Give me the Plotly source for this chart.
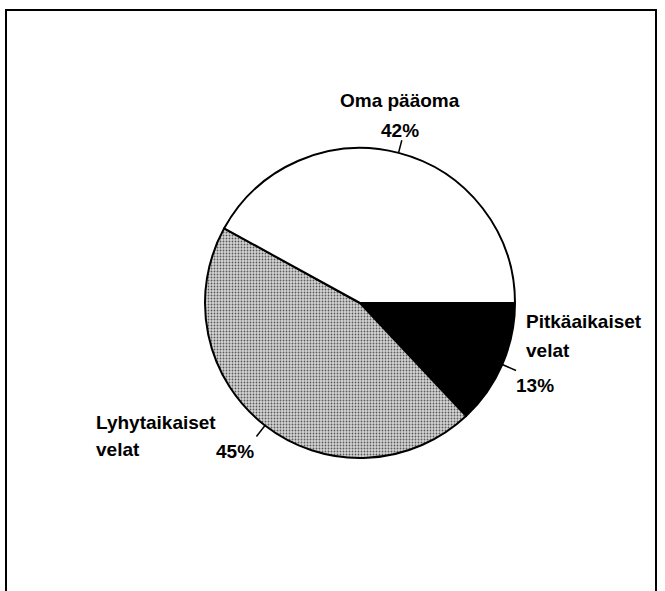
import math
import plotly.graph_objects as go

# data (listed clockwise from 3 o'clock)
labels = ["Pitkäaikaiset velat", "Lyhytaikaiset velat", "Oma pääoma"]
values = [13, 45, 42]
colors = ["black", "#d4d4d4", "white"]
pct = [f"{v}%" for v in values]

W, H = 665, 591
CX, CY, R = 360, 303, 155  # pie centre / radius in pixels


def px(x):
    return x / W


def py(y):
    return 1 - y / H


fig = go.Figure()

fig.add_trace(go.Pie(
    labels=labels,
    values=values,
    sort=False,
    direction="clockwise",
    rotation=90,
    textinfo="none",
    hoverinfo="label+percent",
    marker=dict(
        colors=colors,
        line=dict(color="black", width=2),
        pattern=dict(
            shape=["", ".", ""],
            fgcolor="#5a5a5a",
            bgcolor=colors,
            size=3,
            solidity=0.3,
        ),
    ),
    domain=dict(x=[px(CX - R), px(CX + R)], y=[py(CY + R), py(CY - R)]),
    showlegend=False,
))

# leader lines at each slice's mid angle (clockwise from 3 o'clock)
total = sum(values)
start = 0.0
for v, ext in zip(values, [15, 14, 13]):
    mid = math.radians(-(start + 360 * v / total / 2))
    start += 360 * v / total
    x0 = CX + R * math.cos(mid)
    y0 = CY - R * math.sin(mid)
    x1 = CX + (R + ext) * math.cos(mid)
    y1 = CY - (R + ext) * math.sin(mid)
    fig.add_shape(type="line", xref="paper", yref="paper",
                  x0=px(x0), y0=py(y0), x1=px(x1), y1=py(y1),
                  line=dict(color="black", width=1.5))

font = dict(family="Liberation Sans Narrow, Arial Narrow, sans-serif", size=19, color="black")

# (text, x, y, anchor)
texts = [
    ("Oma pääoma", 400, 100, "center"),
    (pct[2], 400, 130, "center"),
    ("Pitkäaikaiset", 524, 321, "left"),
    ("velat", 524, 350, "left"),
    (pct[0], 514, 385, "left"),
    ("Lyhytaikaiset", 94, 422, "left"),
    ("velat", 94, 450, "left"),
    (pct[1], 214, 451, "left"),
]
for t, x, y, anc in texts:
    fig.add_annotation(xref="paper", yref="paper", showarrow=False, font=font,
                       x=px(x), y=py(y), text=f"<b>{t}</b>",
                       xanchor=anc, yanchor="middle")

# outer frame
fig.add_shape(type="rect", xref="paper", yref="paper",
              x0=px(6), x1=px(656), y0=py(600), y1=py(10),
              line=dict(color="black", width=2))

fig.update_layout(
    width=W, height=H,
    margin=dict(l=0, r=0, t=0, b=0),
    paper_bgcolor="white",
    plot_bgcolor="white",
)

fig.write_html("out.html", config={"displayModeBar": False},
               post_script="document.body.style.margin='0px';")
